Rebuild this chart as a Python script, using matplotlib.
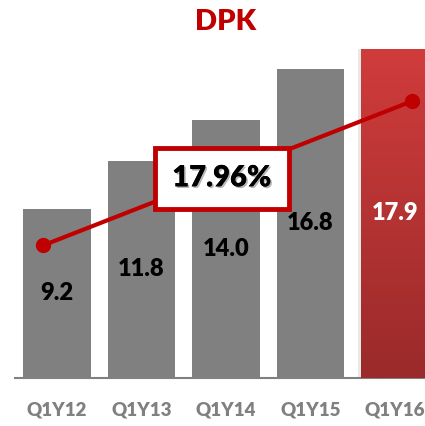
import matplotlib
matplotlib.use("Agg")
import matplotlib.pyplot as plt
import matplotlib.patheffects as pe
from matplotlib.colors import LinearSegmentedColormap
import numpy as np

# data
quarters = ["Q1Y12", "Q1Y13", "Q1Y14", "Q1Y15", "Q1Y16"]
dpk = [9.2, 11.8, 14.0, 16.8, 17.9]
growth_x = [-0.17, 4.21]
growth_y = [7.2, 15.05]
growth_label = "17.96%"

RED = "#C00000"
GRAY = "#808080"

plt.rcParams["font.family"] = ["Lato", "DejaVu Sans"]

fig = plt.figure(figsize=(4.25, 4.26), dpi=100)
ax = fig.add_axes([15 / 425, 48 / 426, 410 / 425, 378 / 426])

x = np.arange(len(quarters))
ax.bar(x[:-1], dpk[:-1], width=0.8, color=GRAY, zorder=2)

# last bar: red gradient plus a soft shadow on its left
last = ax.bar(x[-1], dpk[-1], width=0.8, color="none", zorder=2)[0]
ax.bar(x[-1] - 0.03, dpk[-1], width=0.8, color="#d9d9d9", alpha=0.6, zorder=1)
grad = np.linspace(1, 0, 256).reshape(-1, 1)
cmap = LinearSegmentedColormap.from_list("rg", ["#9B2A2A", "#D03C3C"])
bx, bw = last.get_x(), last.get_width()
im = ax.imshow(grad, cmap=cmap, extent=[bx, bx + bw, 0, dpk[-1]],
               aspect="auto", zorder=2)
im.set_clip_path(last)

for xi, v in zip(x, dpk):
    col = "white" if xi == x[-1] else "black"
    ax.text(xi, v / 2, f"{v:.1f}", ha="center", va="center", fontsize=17,
            fontweight="heavy", color=col, zorder=4)

ax.plot(growth_x, growth_y, color=RED, lw=3, marker="o", ms=10, zorder=3)

t = ax.text(1.95, 10.85, growth_label, ha="center", va="center", fontsize=21,
            fontweight="heavy", color="black", zorder=5,
            bbox=dict(boxstyle="square,pad=0.6", fc="white", ec=RED, lw=3.5))
t.set_path_effects([pe.withSimplePatchShadow(offset=(1.2, -1.2), shadow_rgbFace="#888888", alpha=0.6),
                    pe.Normal()])

ax.set_xlim(-0.5, 4.36)
ax.set_ylim(0, 20.54)
for s in ["top", "right", "left"]:
    ax.spines[s].set_visible(False)
ax.spines["bottom"].set_color(GRAY)
ax.spines["bottom"].set_linewidth(1.5)
ax.spines["bottom"].set_zorder(1)
ax.set_yticks([])
ax.set_xticks(x)
ax.set_xticklabels(quarters, fontsize=13.5, fontweight="heavy", color=GRAY)
ax.tick_params(axis="x", length=0, pad=17)

fig.text(226 / 425, 1 - 22 / 426, "DPK", ha="center", va="center",
         fontsize=21, fontweight="heavy", color=RED)

fig.savefig("out.png", dpi=100)
